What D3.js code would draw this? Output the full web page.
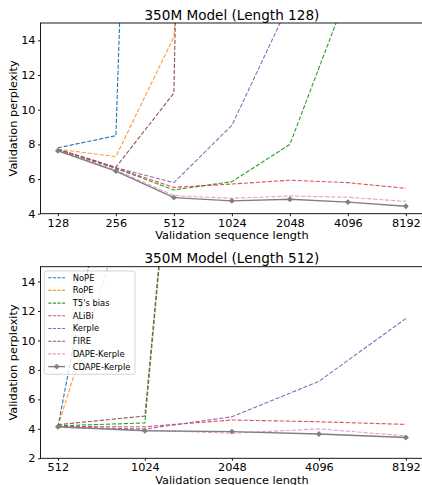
<!DOCTYPE html>
<html><head><meta charset="utf-8">
<script src="https://cdn.jsdelivr.net/npm/d3@7"></script>
<style>
html,body{margin:0;padding:0;background:#fff;}
svg{display:block;font-family:"DejaVu Sans",sans-serif;}
</style></head>
<body>
<svg id="chart" width="422" height="485"></svg>
<script>
// ---------- data ----------
const seriesNames = ["NoPE","RoPE","T5's bias","ALiBi","Kerple","FIRE","DAPE-Kerple","CDAPE-Kerple"];
const seriesColors = ["#1f77b4","#ff7f0e","#2ca02c","#d62728","#9467bd","#8c564b","#e377c2","#7f7f7f"];
const seriesAlpha = [1,0.8,1,0.8,1,1,0.75,1];

// Panel 1: trained at length 128
const lengths128 = ["128","256","512","1024","2048","4096","8192"];
const nope128   = [7.8, 8.5, 110, 350, 700, 1000, 1300];
const rope128   = [7.72, 7.3, 14.2, 60, 200, 400, 700];
const t5_128    = [7.7, 6.62, 5.37, 5.85, 8.0, 16.8, 40];
const alibi128  = [7.7, 6.63, 5.52, 5.71, 5.93, 5.79, 5.46];
const kerple128 = [7.7, 6.65, 5.79, 9.1, 16.2, 30, 60];
const fire128   = [7.72, 6.68, 10.96, 180, 400, 700, 1000];
const dape128   = [7.65, 6.52, 5.04, 4.89, 5.02, 4.95, 4.71];
const cdape128  = [7.63, 6.46, 4.93, 4.74, 4.83, 4.67, 4.43];
const yTicks128 = [4,6,8,10,12,14];

// Panel 2: trained at length 512
const lengths512 = ["512","1024","2048","4096","8192"];
const nope512   = [4.12, 35, 150, 400, 700];
const rope512   = [4.15, 23, 90, 250, 500];
const t5_512    = [4.2, 4.4, 69, 200, 400];
const alibi512  = [4.15, 4.14, 4.6, 4.48, 4.3];
const kerple512 = [4.12, 3.99, 4.82, 7.22, 11.49];
const fire512   = [4.28, 4.87, 69, 200, 400];
const dape512   = [4.1, 3.92, 3.7, 4.0, 3.52];
const cdape512  = [4.14, 3.87, 3.81, 3.65, 3.41];
const yTicks512 = [2,4,6,8,10,12,14];

const panels = [
  {title:"350M Model (Length 128)", labels:lengths128,
   data:[nope128,rope128,t5_128,alibi128,kerple128,fire128,dape128,cdape128],
   yDomain:[4,15], yTicks:yTicks128, top:23, bottom:213.7, xlabelY:238.5, titleY:19.5, legend:false},
  {title:"350M Model (Length 512)", labels:lengths512,
   data:[nope512,rope512,t5_512,alibi512,kerple512,fire512,dape512,cdape512],
   yDomain:[2,15], yTicks:yTicks512, top:266.7, bottom:458.3, xlabelY:483.5, titleY:263, legend:true}
];

// ---------- drawing ----------
const svg = d3.select("#chart");
const left = 40.5, right = 423.3;
const tickFont = 11.3, labelFont = 11.3, titleFont = 13.6;
const marker = d3.symbol().type(d3.symbolDiamond2).size(22)();

panels.forEach((p, pi) => {
  const n = p.labels.length;
  const m = 0.05 * (n - 1);
  const x = d3.scaleLinear().domain([-m, n - 1 + m]).range([left, right]);
  const y = d3.scaleLinear().domain(p.yDomain).range([p.bottom, p.top]);
  const g = svg.append("g");

  const clipId = "clip" + pi;
  svg.append("clipPath").attr("id", clipId).append("rect")
    .attr("x", left).attr("y", p.top).attr("width", right - left).attr("height", p.bottom - p.top);

  // lines
  const line = d3.line().x((d, i) => x(i)).y(d => y(d));
  const lg = g.append("g").attr("clip-path", `url(#${clipId})`);
  p.data.forEach((vals, si) => {
    const isSolid = si === 7;
    lg.append("path").datum(vals)
      .attr("d", line)
      .attr("fill", "none")
      .attr("stroke", seriesColors[si])
      .attr("stroke-opacity", seriesAlpha[si])
      .attr("stroke-width", isSolid ? 1.4 : 1.1)
      .attr("stroke-dasharray", isSolid ? null : "4.2,1.8");
    if (isSolid) {
      lg.selectAll(null).data(vals).enter().append("path")
        .attr("transform", (d, i) => `translate(${x(i)},${y(d)})`)
        .attr("d", marker)
        .attr("fill", seriesColors[si]);
    }
  });

  // axes
  const xAxis = d3.axisBottom(x).tickValues(d3.range(n)).tickFormat(i => p.labels[i])
    .tickSizeInner(2.5).tickSizeOuter(0).tickPadding(2.5);
  const xa = g.append("g").attr("transform", `translate(0,${p.bottom})`).call(xAxis);
  const yAxis = d3.axisLeft(y).tickValues(p.yTicks).tickSizeInner(2.5).tickSizeOuter(0).tickPadding(2.5);
  const ya = g.append("g").attr("transform", `translate(${left},0)`).call(yAxis);
  [xa, ya].forEach(a => {
    a.select(".domain").remove();
    a.selectAll(".tick line").attr("stroke", "#000").attr("stroke-width", 0.9);
    a.selectAll(".tick text").attr("font-size", tickFont).attr("fill", "#000")
      .attr("font-family", "DejaVu Sans");
  });

  // spines
  g.append("rect").attr("x", left).attr("y", p.top).attr("width", right - left).attr("height", p.bottom - p.top)
    .attr("fill", "none").attr("stroke", "#000").attr("stroke-width", 0.9);

  // labels
  g.append("text").attr("x", (left + right) / 2).attr("y", p.xlabelY).attr("text-anchor", "middle")
    .attr("font-size", labelFont).text("Validation sequence length");
  g.append("text").attr("transform", `translate(16.5,${(p.top + p.bottom) / 2}) rotate(-90)`)
    .attr("text-anchor", "middle").attr("font-size", labelFont).text("Validation perplexity");
  g.append("text").attr("x", (left + right) / 2).attr("y", p.titleY).attr("text-anchor", "middle")
    .attr("font-size", titleFont).text(p.title);

  // legend
  if (p.legend) {
    const lx = 44.3, ly = 271, lw = 90.7, lh = 103.3, rowH = 12.7;
    const leg = g.append("g");
    leg.append("rect").attr("x", lx).attr("y", ly).attr("width", lw).attr("height", lh)
      .attr("rx", 2).attr("fill", "#fff").attr("fill-opacity", 0.8)
      .attr("stroke", "#d0d0d0").attr("stroke-width", 0.9);
    seriesNames.forEach((name, si) => {
      const cy = 277.7 + si * rowH;
      const isSolid = si === 7;
      leg.append("line").attr("x1", 48.3).attr("x2", 65).attr("y1", cy).attr("y2", cy)
        .attr("stroke", seriesColors[si]).attr("stroke-opacity", seriesAlpha[si])
        .attr("stroke-width", isSolid ? 1.4 : 1.1)
        .attr("stroke-dasharray", isSolid ? null : "3.2,1.4");
      if (isSolid) {
        leg.append("path").attr("transform", `translate(${(48.3 + 65) / 2},${cy})`)
          .attr("d", marker).attr("fill", seriesColors[si]);
      }
      leg.append("text").attr("x", 72.7).attr("y", cy).attr("dy", "0.35em")
        .attr("font-size", 8.4).text(name);
    });
  }
});
</script>
</body></html>
